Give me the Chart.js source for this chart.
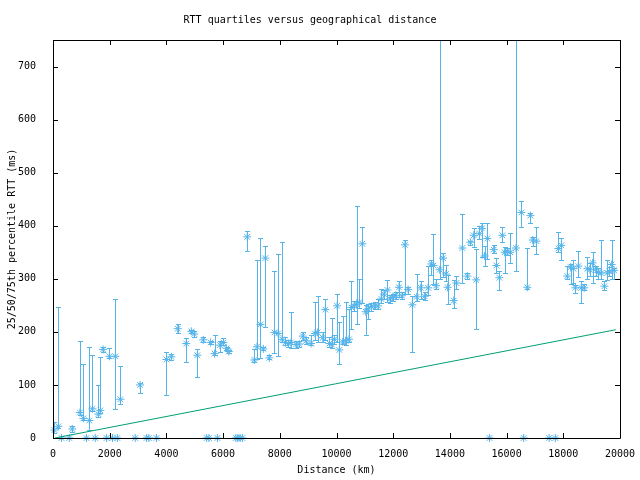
<!DOCTYPE html>
<html>
<head>
<meta charset="utf-8">
<script src="https://cdn.jsdelivr.net/npm/chart.js@4"></script>
<style>
  body { margin: 0; background: #fff; }
</style>
</head>
<body>
<canvas id="rttChart" width="640" height="480"></canvas>
<script>
// distance (km), then 25th / 50th / 75th percentile RTT (ms)
var distKm = [50, 190, 300, 575, 680, 950, 1070, 1180, 1280, 1390, 1490, 1600, 1670, 1765, 1890, 1990, 2100, 2200, 2270, 2375,
  2900, 3070, 3300, 3380, 3650, 4000, 4175, 4400, 4700, 4880, 4985, 5090, 5300, 5420, 5500, 5560, 5700, 5800, 5890, 6010,
  6125, 6200, 6450, 6520, 6600, 6680, 6850, 7100, 7195, 7315, 7420, 7490, 7630, 7810, 7940, 8080, 8195, 8300, 8395, 8570,
  8690, 8810, 8925, 9100, 9240, 9335, 9515, 9605, 9750, 9840, 9925, 10020, 10100, 10220, 10320, 10440, 10525, 10620, 10710, 10805,
  10910, 11030, 11110, 11230, 11345, 11465, 11580, 11675, 11795, 11890, 11980, 12090, 12205, 12310, 12415, 12525, 12675, 12830, 12970, 13110,
  13230, 13345, 13420, 13510, 13640, 13760, 13860, 13920, 14135, 14230, 14440, 14615, 14720, 14840, 14930, 15040, 15130, 15225, 15320, 15400,
  15545, 15640, 15745, 15850, 15930, 16025, 16130, 16330, 16520, 16600, 16730, 16840, 16920, 17050, 17500, 17720, 17825, 17930, 18140, 18260,
  18355, 18425, 18530, 18635, 18740, 18850, 18940, 19035, 19140, 19235, 19340, 19450, 19555, 19625, 19705, 19790];
var rttMedian = [15, 22, 0, 0, 17, 48, 37, 0, 33, 55, 0, 45, 52, 167, 0, 154, 0, 154, 0, 73,
  0, 100, 0, 0, 0, 148, 153, 206, 178, 201, 196, 156, 185, 0, 0, 180, 159, 0, 175, 180,
  169, 163, 0, 0, 0, 0, 379, 147, 172, 214, 168, 339, 151, 199, 197, 186, 180, 178, 180, 176,
  177, 192, 183, 178, 197, 199, 189, 242, 178, 176, 186, 249, 166, 181, 183, 186, 246, 249, 252, 256,
  366, 238, 243, 248, 249, 249, 262, 271, 279, 262, 265, 269, 284, 268, 364, 280, 251, 266, 283, 267,
  283, 328, 325, 287, 317, 339, 309, 284, 259, 292, 358, 305, 369, 382, 298, 385, 395, 343, 376, 0,
  355, 325, 302, 382, 350, 352, 350, 358, 425, 0, 284, 419, 373, 371, 0, 0, 357, 363, 305, 322,
  319, 283, 324, 283, 283, 319, 317, 330, 318, 312, 311, 286, 311, 314, 327, 316];
var rttQ25 = [10, 18, 0, 0, 12, 44, 33, 0, 15, 50, 0, 40, 47, 163, 0, 151, 0, 55, 0, 64,
  0, 85, 0, 0, 0, 81, 147, 197, 144, 198, 190, 115, 180, 0, 0, 178, 156, 0, 163, 175,
  166, 160, 0, 0, 0, 0, 352, 144, 148, 151, 165, 210, 148, 160, 155, 180, 175, 172, 170, 170,
  172, 185, 178, 175, 185, 180, 180, 185, 172, 170, 178, 180, 139, 178, 176, 180, 206, 240, 214, 245,
  254, 195, 224, 240, 243, 244, 255, 262, 257, 255, 258, 262, 265, 262, 271, 271, 163, 258, 262, 260,
  270, 307, 290, 280, 300, 303, 295, 252, 245, 281, 293, 299, 363, 360, 205, 375, 341, 324, 338, 0,
  349, 310, 279, 369, 311, 345, 330, 314, 398, 0, 280, 405, 362, 347, 0, 0, 350, 336, 300, 290,
  292, 274, 303, 254, 278, 300, 305, 293, 305, 300, 300, 278, 297, 305, 300, 300];
var rttQ75 = [30, 246, 0, 0, 22, 183, 140, 0, 172, 157, 0, 100, 153, 171, 0, 170, 0, 261, 0, 136,
  0, 104, 0, 0, 0, 163, 159, 215, 188, 204, 201, 168, 190, 0, 0, 182, 194, 0, 183, 188,
  172, 166, 0, 0, 0, 0, 391, 168, 336, 377, 172, 362, 156, 314, 347, 369, 190, 185, 237, 182,
  182, 200, 190, 195, 256, 267, 200, 261, 190, 227, 195, 271, 218, 230, 257, 243, 295, 259, 438, 300,
  398, 250, 252, 254, 256, 262, 281, 278, 297, 270, 272, 276, 295, 275, 374, 284, 268, 309, 295, 275,
  325, 336, 385, 300, 800, 349, 326, 307, 297, 305, 423, 311, 372, 396, 357, 400, 405, 362, 405, 0,
  364, 340, 314, 397, 360, 358, 386, 800, 447, 0, 358, 424, 379, 398, 0, 0, 388, 376, 325, 327,
  336, 288, 352, 295, 290, 341, 330, 350, 325, 320, 374, 295, 336, 322, 374, 321];

// lower bound line
var lineKm = [70, 19850];
var lineRtt = [0, 204];

var xTicks = [0, 2000, 4000, 6000, 8000, 10000, 12000, 14000, 16000, 18000, 20000];
var yTicks = [0, 100, 200, 300, 400, 500, 600, 700];

var blue = '#56B4E9';
var green = '#009E73';
var mono = { family: 'DejaVu Sans Mono', size: 10, weight: 'normal' };

var points = distKm.map(function (d, i) {
	return { x: d, y: rttMedian[i], lo: rttQ25[i], hi: rttQ75[i] };
});
var bound = lineKm.map(function (d, i) {
	return { x: d, y: lineRtt[i] };
});

// vertical error bars with small caps, drawn before the asterisks
var errorBars = {
	id: 'errorBars',
	beforeDatasetsDraw: function (chart) {
		var ctx = chart.ctx, a = chart.chartArea;
		var xs = chart.scales.x, ys = chart.scales.y;
		ctx.save();
		ctx.beginPath();
		ctx.rect(a.left, a.top, a.right - a.left, a.bottom - a.top);
		ctx.clip();
		ctx.strokeStyle = blue;
		ctx.lineWidth = 1;
		points.forEach(function (p) {
			if (p.hi == p.lo) return;
			var px = Math.round(xs.getPixelForValue(p.x)) + 0.5;
			var y1 = Math.round(ys.getPixelForValue(p.lo)) + 0.5;
			var y2 = Math.round(ys.getPixelForValue(p.hi)) + 0.5;
			ctx.beginPath();
			ctx.moveTo(px, y1); ctx.lineTo(px, y2);
			ctx.moveTo(px - 2.5, y1); ctx.lineTo(px + 2.5, y1);
			ctx.moveTo(px - 2.5, y2); ctx.lineTo(px + 2.5, y2);
			ctx.stroke();
		});
		ctx.restore();
	}
};

// gnuplot style box with inward ticks on all four sides
var frame = {
	id: 'frame',
	afterDraw: function (chart) {
		var ctx = chart.ctx, a = chart.chartArea;
		var xs = chart.scales.x, ys = chart.scales.y;
		var t = 5;
		ctx.save();
		ctx.strokeStyle = '#000';
		ctx.lineWidth = 1;
		ctx.beginPath();
		ctx.rect(Math.round(a.left) + 0.5, Math.round(a.top) + 0.5, Math.round(a.right - a.left), Math.round(a.bottom - a.top));
		xTicks.forEach(function (v) {
			var px = Math.round(xs.getPixelForValue(v)) + 0.5;
			ctx.moveTo(px, a.bottom); ctx.lineTo(px, a.bottom - t);
			ctx.moveTo(px, a.top); ctx.lineTo(px, a.top + t);
		});
		yTicks.forEach(function (v) {
			var py = Math.round(ys.getPixelForValue(v)) + 0.5;
			ctx.moveTo(a.left, py); ctx.lineTo(a.left + t, py);
			ctx.moveTo(a.right, py); ctx.lineTo(a.right - t, py);
		});
		ctx.stroke();
		ctx.restore();
	}
};

var ctx = document.getElementById('rttChart').getContext('2d');
var rttChart = new Chart(ctx, {
	type: 'scatter',
	data: {
		datasets: [
			{
				label: 'lower bound',
				type: 'line',
				data: bound,
				borderColor: green,
				borderWidth: 1,
				pointRadius: 0,
				fill: false
			},
			{
				label: 'median RTT',
				data: points,
				pointStyle: 'star',
				pointRadius: 4,
				borderColor: blue,
				backgroundColor: blue,
				borderWidth: 1,
				clip: false
			}
		]
	},
	options: {
		responsive: false,
		animation: false,
		events: [],
		layout: { padding: { left: 0, right: 20, top: 0, bottom: 0 } },
		plugins: {
			legend: { display: false },
			tooltip: { enabled: false },
			title: {
				display: true,
				text: 'RTT quartiles versus geographical distance',
				color: '#000',
				font: mono,
				padding: { top: 14, bottom: 14 }
			}
		},
		scales: {
			x: {
				type: 'linear',
				min: 0,
				max: 20000,
				afterBuildTicks: function (s) { s.ticks = xTicks.map(function (v) { return { value: v }; }); },
				afterFit: function (s) { s.height = 42; },
				grid: { display: false },
				border: { display: false },
				ticks: { color: '#000', font: mono, maxRotation: 0, padding: 2, callback: function (v) { return String(v); } },
				title: { display: true, text: 'Distance (km)', color: '#000', font: mono, padding: { top: 0, bottom: 4 } }
			},
			y: {
				type: 'linear',
				min: 0,
				max: 750,
				afterBuildTicks: function (s) { s.ticks = yTicks.map(function (v) { return { value: v }; }); },
				afterFit: function (s) { s.width = 53; },
				grid: { display: false },
				border: { display: false },
				ticks: { color: '#000', font: mono, padding: 9, callback: function (v) { return String(v); } },
				title: { display: true, text: '25/50/75th percentile RTT (ms)', color: '#000', font: mono, padding: { top: 6, bottom: 0 } }
			}
		}
	},
	plugins: [errorBars, frame]
});
</script>
</body>
</html>
